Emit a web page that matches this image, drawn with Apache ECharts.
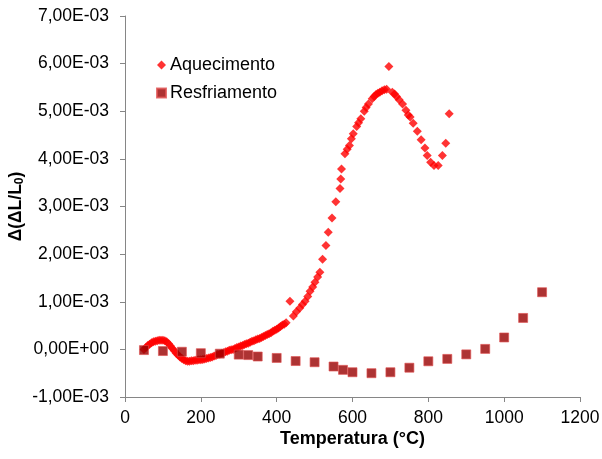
<!DOCTYPE html>
<html>
<head>
<meta charset="utf-8">
<script src="https://cdn.jsdelivr.net/npm/echarts@6/dist/echarts.min.js"></script>
<style>
  html, body { margin: 0; padding: 0; background: #fff; }
  #chart { width: 602px; height: 459px; }
</style>
</head>
<body>
<div id="chart"></div>
<script>
// Heating run: temperature (°C) and Δ(ΔL/L0) in units of 1E-03
const heatTemp = [
  50, 55, 60, 65, 70, 75, 80, 85, 90, 95, 100, 105, 110, 115, 120, 125, 130, 135, 140, 145,
  150, 155, 160, 165, 170, 175, 180, 185, 190, 195, 200, 205, 210, 215, 220, 225, 230, 235, 240, 245,
  250, 255, 260, 265, 270, 275, 280, 285, 290, 295, 300, 305, 310, 315, 320, 325, 330, 335, 340, 345,
  350, 355, 360, 365, 370, 375, 380, 385, 390, 395, 400, 405, 410, 415, 420, 425, 435, 444, 452, 461,
  468, 475, 482, 488, 495, 501, 508, 514, 521, 530, 536, 546, 556, 567, 569, 571, 580, 586, 592, 597,
  602, 611, 616, 622, 631, 636, 642, 652, 657, 662, 667, 672, 678, 684, 690, 696, 705, 711, 716, 723,
  732, 741, 747, 752, 760, 771, 781, 791, 797, 806, 815, 826, 837, 846, 855
];
const heatDL = [
  0.00, 0.04, 0.08, 0.11, 0.14, 0.16, 0.17, 0.18, 0.19, 0.19, 0.19, 0.18, 0.16, 0.12, 0.07, 0.02, -0.03, -0.08, -0.12, -0.16,
  -0.19, -0.22, -0.24, -0.25, -0.25, -0.24, -0.24, -0.23, -0.23, -0.22, -0.22, -0.21, -0.20, -0.19, -0.18, -0.17, -0.16, -0.14, -0.13, -0.11,
  -0.10, -0.08, -0.07, -0.05, -0.04, -0.02, -0.01, 0.00, 0.02, 0.04, 0.05, 0.07, 0.08, 0.10, 0.12, 0.13, 0.15, 0.17, 0.18, 0.20,
  0.22, 0.23, 0.25, 0.27, 0.29, 0.31, 0.33, 0.35, 0.38, 0.40, 0.42, 0.45, 0.48, 0.51, 0.53, 0.56, 1.01, 0.70, 0.79, 0.87,
  0.94, 1.01, 1.11, 1.22, 1.31, 1.41, 1.52, 1.62, 1.89, 2.18, 2.46, 2.76, 3.10, 3.38, 3.58, 3.79, 4.11, 4.20, 4.28, 4.42,
  4.53, 4.68, 4.76, 4.84, 5.00, 5.08, 5.15, 5.26, 5.31, 5.35, 5.38, 5.40, 5.43, 5.45, 5.46, 5.94, 5.40, 5.36, 5.31, 5.24,
  5.15, 5.02, 4.92, 4.88, 4.75, 4.58, 4.40, 4.23, 4.07, 3.93, 3.86, 3.86, 4.07, 4.33, 4.95
];

// Cooling run
const coolTemp = [50, 100, 150, 200, 250, 300, 325, 350, 400, 450, 500, 550, 575, 600, 650, 700, 750, 800, 850, 900, 950, 1000, 1050, 1100];
const coolDL = [-0.015, -0.035, -0.05, -0.08, -0.09, -0.11, -0.12, -0.15, -0.18, -0.245, -0.27, -0.36, -0.43, -0.48, -0.50, -0.48, -0.385, -0.25, -0.20, -0.105, 0.01, 0.25, 0.66, 1.20];

const seriesNames = ['Aquecimento', 'Resfriamento'];
const xTicks = { min: 0, max: 1200, interval: 200 };
const yTicks = { min: -1e-3, max: 7e-3, interval: 1e-3 };

const SCALE = 1e-3;
const pairs = (xs, ys) => xs.map((x, i) => [x, ys[i] * SCALE]);

// "7,00E-03" style labels
function sciLabel(v) {
  const r = Math.round(v / 1e-5) * 1e-5;
  const s = r.toExponential(2);
  const [m, e] = s.split('e');
  const en = parseInt(e, 10);
  const es = (en < 0 ? '-' : '+') + String(Math.abs(en)).padStart(2, '0');
  return m.replace('.', ',') + 'E' + es;
}

const FONT = 'Liberation Sans, Arial, sans-serif';
const axisGray = '#868686';
const chart = echarts.init(document.getElementById('chart'), null, { renderer: 'canvas' });

chart.setOption({
  backgroundColor: '#ffffff',
  animation: false,
  textStyle: { fontFamily: FONT },
  grid: { left: 125, right: 22, top: 16, bottom: 62, containLabel: false, outerBoundsMode: 'none' },
  legend: {
    data: [
      { name: seriesNames[0], icon: 'diamond' },
      { name: seriesNames[1], icon: 'rect' }
    ],
    orient: 'vertical',
    left: 151,
    top: 51,
    itemWidth: 9,
    itemHeight: 9,
    itemGap: 10,
    textStyle: { fontSize: 18, color: '#000', fontFamily: FONT, padding: [0, 0, 0, -1] }
  },
  xAxis: {
    type: 'value',
    min: xTicks.min,
    max: xTicks.max,
    interval: xTicks.interval,
    name: 'Temperatura (°C)',
    nameLocation: 'middle',
    nameGap: 33,
    nameMoveOverlap: false,
    nameTextStyle: { fontSize: 18, fontWeight: 'bold', color: '#000', fontFamily: FONT },
    axisLine: { onZero: false, lineStyle: { color: axisGray, width: 1 } },
    axisTick: { show: true, length: 5, inside: false, lineStyle: { color: axisGray } },
    axisLabel: { fontSize: 17.5, color: '#000', margin: 12, formatter: (v) => String(v) },
    splitLine: { show: false }
  },
  yAxis: {
    type: 'value',
    min: yTicks.min,
    max: yTicks.max,
    interval: yTicks.interval,
    name: '{m|Δ(ΔL/L}{s|0}{m|)}',
    nameLocation: 'middle',
    nameGap: 99,
    nameMoveOverlap: false,
    nameRotate: 90,
    nameTextStyle: {
      rich: {
        m: { fontSize: 17.5, fontWeight: 'bold', color: '#000', fontFamily: FONT },
        s: { fontSize: 12, fontWeight: 'bold', color: '#000', fontFamily: FONT, padding: [8, 0, 0, 0] }
      }
    },
    axisLine: { show: true, lineStyle: { color: axisGray, width: 1 } },
    axisTick: { show: true, length: 5, inside: false, lineStyle: { color: axisGray } },
    axisLabel: { fontSize: 17.5, color: '#000', margin: 16, formatter: sciLabel },
    splitLine: { show: false }
  },
  series: [
    {
      name: seriesNames[0],
      type: 'scatter',
      symbol: 'diamond',
      symbolSize: 9,
      itemStyle: { color: '#ff0000' },
      data: pairs(heatTemp, heatDL)
    },
    {
      name: seriesNames[1],
      type: 'scatter',
      symbol: 'rect',
      symbolSize: 9,
      itemStyle: { color: '#990000', borderColor: '#e05050', borderWidth: 0.8 },
      data: pairs(coolTemp, coolDL)
    }
  ]
});
</script>
</body>
</html>
